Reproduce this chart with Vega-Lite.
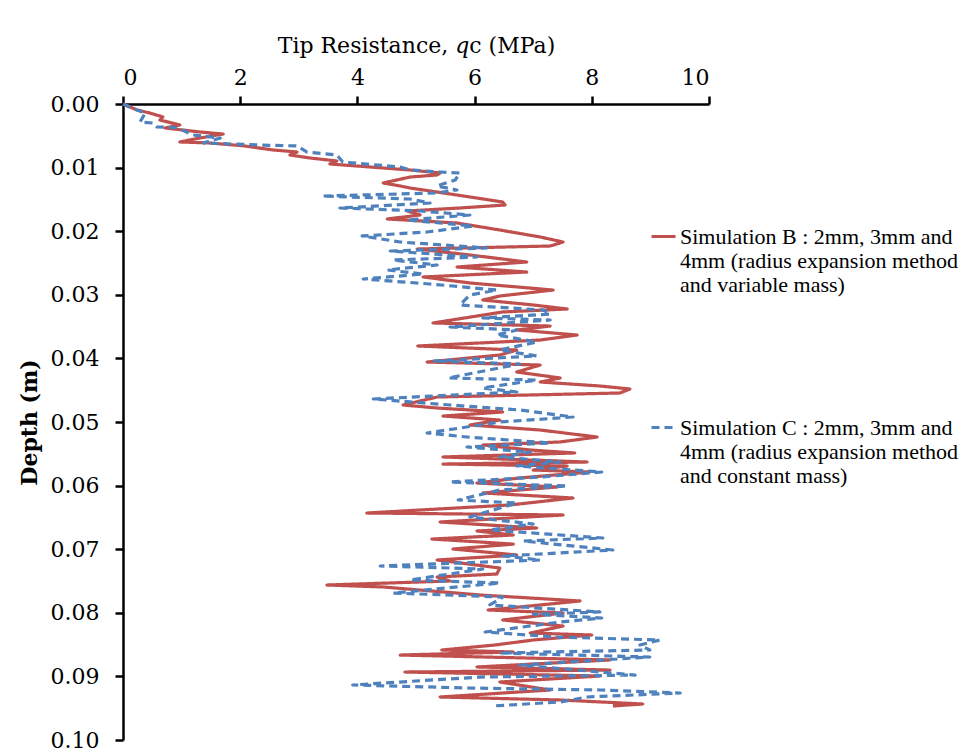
{
  "$schema": "https://vega.github.io/schema/vega-lite/v6.json",
  "width": 586,
  "height": 636,
  "autosize": {"type": "none"},
  "padding": {"left": 123, "top": 104, "right": 259, "bottom": 13},
  "background": "white",
  "config": {"view": {"stroke": null}, "font": "DejaVu Serif"},
  "datasets": {
    "simB": [
      {"depth":0,"qc":0},{"depth":0.00094,"qc":0.24},{"depth":0.00142,"qc":0.46},{"depth":0.00204,"qc":0.68},{"depth":0.00252,"qc":0.63},{"depth":0.0033,"qc":0.97},{"depth":0.00377,"qc":0.72},{"depth":0.0044,"qc":1.31},{"depth":0.00472,"qc":1.71},{"depth":0.00535,"qc":1.31},{"depth":0.00597,"qc":0.97},{"depth":0.00613,"qc":1.48},{"depth":0.0066,"qc":2.08},{"depth":0.00723,"qc":2.56},{"depth":0.00755,"qc":2.97},{"depth":0.00802,"qc":2.85},{"depth":0.00849,"qc":3.19},{"depth":0.00896,"qc":3.65},{"depth":0.00943,"qc":3.53},{"depth":0.00991,"qc":4.22},{"depth":0.01038,"qc":4.9},{"depth":0.01085,"qc":5.41},{"depth":0.01116,"qc":5.36},{"depth":0.01148,"qc":4.9},{"depth":0.01242,"qc":4.44},{"depth":0.01289,"qc":4.73},{"depth":0.01321,"qc":4.9},{"depth":0.01384,"qc":5.36},{"depth":0.01462,"qc":5.92},{"depth":0.01541,"qc":6.48},{"depth":0.01588,"qc":6.52},{"depth":0.01635,"qc":5.75},{"depth":0.01682,"qc":4.85},{"depth":0.01745,"qc":5.07},{"depth":0.01808,"qc":4.51},{"depth":0.01871,"qc":5.7},{"depth":0.01981,"qc":6.43},{"depth":0.02091,"qc":7.12},{"depth":0.0217,"qc":7.51},{"depth":0.02233,"qc":7.29},{"depth":0.0228,"qc":5.02},{"depth":0.02374,"qc":5.92},{"depth":0.02484,"qc":6.89},{"depth":0.02563,"qc":5.7},{"depth":0.02642,"qc":6.89},{"depth":0.0272,"qc":5.12},{"depth":0.02814,"qc":5.92},{"depth":0.02925,"qc":7.34},{"depth":0.03019,"qc":6.43},{"depth":0.03082,"qc":6.14},{"depth":0.0316,"qc":7.0},{"depth":0.03223,"qc":7.58},{"depth":0.0327,"qc":6.48},{"depth":0.03443,"qc":5.29},{"depth":0.03491,"qc":7.29},{"depth":0.03553,"qc":6.72},{"depth":0.03632,"qc":7.75},{"depth":0.03711,"qc":7.12},{"depth":0.03805,"qc":5.03},{"depth":0.03868,"qc":6.72},{"depth":0.03947,"qc":6.43},{"depth":0.04057,"qc":5.19},{"depth":0.04104,"qc":7.12},{"depth":0.04214,"qc":6.72},{"depth":0.04308,"qc":7.46},{"depth":0.04371,"qc":7.12},{"depth":0.04434,"qc":8.14},{"depth":0.04481,"qc":8.65},{"depth":0.04544,"qc":8.48},{"depth":0.04607,"qc":5.36},{"depth":0.04733,"qc":4.78},{"depth":0.0478,"qc":5.36},{"depth":0.04843,"qc":6.48},{"depth":0.04906,"qc":5.46},{"depth":0.04969,"qc":6.43},{"depth":0.05047,"qc":5.92},{"depth":0.05126,"qc":7.12},{"depth":0.05236,"qc":8.09},{"depth":0.05314,"qc":7.46},{"depth":0.05362,"qc":6.14},{"depth":0.0544,"qc":6.95},{"depth":0.05487,"qc":7.71},{"depth":0.0555,"qc":5.46},{"depth":0.05629,"qc":7.92},{"depth":0.05661,"qc":5.46},{"depth":0.05692,"qc":7.58},{"depth":0.05755,"qc":7.0},{"depth":0.05786,"qc":7.97},{"depth":0.0588,"qc":6.77},{"depth":0.05959,"qc":6.04},{"depth":0.06022,"qc":7.41},{"depth":0.06116,"qc":6.14},{"depth":0.06195,"qc":7.68},{"depth":0.06305,"qc":6.6},{"depth":0.06431,"qc":4.16},{"depth":0.06462,"qc":7.51},{"depth":0.06572,"qc":5.41},{"depth":0.06667,"qc":7.06},{"depth":0.06714,"qc":6.04},{"depth":0.06777,"qc":6.66},{"depth":0.0684,"qc":5.27},{"depth":0.0692,"qc":6.66},{"depth":0.06997,"qc":5.63},{"depth":0.07091,"qc":6.72},{"depth":0.0717,"qc":5.36},{"depth":0.07296,"qc":6.43},{"depth":0.0739,"qc":6.38},{"depth":0.07437,"qc":5.36},{"depth":0.075,"qc":5.58},{"depth":0.07563,"qc":3.48},{"depth":0.07594,"qc":4.44},{"depth":0.0772,"qc":6.09},{"depth":0.07814,"qc":7.8},{"depth":0.07877,"qc":7.12},{"depth":0.07956,"qc":6.23},{"depth":0.08003,"qc":7.51},{"depth":0.08113,"qc":6.48},{"depth":0.08208,"qc":7.51},{"depth":0.08318,"qc":6.95},{"depth":0.08349,"qc":8.0},{"depth":0.08428,"qc":7.0},{"depth":0.08506,"qc":6.35},{"depth":0.08585,"qc":5.44},{"depth":0.08616,"qc":6.66},{"depth":0.08664,"qc":4.73},{"depth":0.08742,"qc":8.31},{"depth":0.08852,"qc":6.04},{"depth":0.089,"qc":8.31},{"depth":0.08931,"qc":4.81},{"depth":0.08994,"qc":8.14},{"depth":0.09088,"qc":6.43},{"depth":0.09214,"qc":7.29},{"depth":0.09324,"qc":5.41},{"depth":0.09371,"qc":7.46},{"depth":0.09434,"qc":8.87},{"depth":0.09465,"qc":8.36}
    ],
    "simC": [
      {"depth":0,"qc":0},{"depth":0.00063,"qc":0.15},{"depth":0.00142,"qc":0.38},{"depth":0.00283,"qc":0.29},{"depth":0.00299,"qc":0.51},{"depth":0.00362,"qc":0.58},{"depth":0.0037,"qc":0.92},{"depth":0.00487,"qc":1.19},{"depth":0.00535,"qc":1.66},{"depth":0.00613,"qc":1.37},{"depth":0.00645,"qc":2.34},{"depth":0.0066,"qc":2.97},{"depth":0.00755,"qc":3.14},{"depth":0.00802,"qc":3.65},{"depth":0.00912,"qc":3.75},{"depth":0.00991,"qc":4.73},{"depth":0.01038,"qc":4.9},{"depth":0.01069,"qc":5.41},{"depth":0.01085,"qc":5.75},{"depth":0.01195,"qc":5.67},{"depth":0.01289,"qc":5.36},{"depth":0.01352,"qc":5.7},{"depth":0.01399,"qc":5.36},{"depth":0.01447,"qc":3.4},{"depth":0.01494,"qc":4.9},{"depth":0.01557,"qc":5.24},{"depth":0.01635,"qc":3.7},{"depth":0.01682,"qc":5.07},{"depth":0.01745,"qc":5.92},{"depth":0.01824,"qc":4.85},{"depth":0.01918,"qc":5.97},{"depth":0.02013,"qc":5.19},{"depth":0.02075,"qc":4.08},{"depth":0.0217,"qc":4.73},{"depth":0.02264,"qc":6.21},{"depth":0.02311,"qc":4.56},{"depth":0.02406,"qc":6.04},{"depth":0.02453,"qc":4.61},{"depth":0.02531,"qc":5.36},{"depth":0.0261,"qc":4.51},{"depth":0.02673,"qc":5.12},{"depth":0.02752,"qc":4.1},{"depth":0.0283,"qc":5.24},{"depth":0.02925,"qc":6.38},{"depth":0.03003,"qc":5.92},{"depth":0.0316,"qc":5.75},{"depth":0.03239,"qc":7.17},{"depth":0.03302,"qc":7.29},{"depth":0.03365,"qc":6.14},{"depth":0.03396,"qc":7.29},{"depth":0.03506,"qc":5.58},{"depth":0.03553,"qc":6.72},{"depth":0.03632,"qc":6.38},{"depth":0.03742,"qc":7.06},{"depth":0.03868,"qc":6.43},{"depth":0.03962,"qc":7.06},{"depth":0.04041,"qc":5.29},{"depth":0.04088,"qc":6.77},{"depth":0.04308,"qc":5.55},{"depth":0.0434,"qc":7.06},{"depth":0.04465,"qc":6.14},{"depth":0.04528,"qc":6.72},{"depth":0.04638,"qc":4.27},{"depth":0.04733,"qc":5.58},{"depth":0.04811,"qc":6.77},{"depth":0.04921,"qc":7.68},{"depth":0.05,"qc":6.43},{"depth":0.05173,"qc":5.19},{"depth":0.05236,"qc":5.87},{"depth":0.0533,"qc":7.29},{"depth":0.05393,"qc":5.87},{"depth":0.05472,"qc":6.95},{"depth":0.0555,"qc":6.43},{"depth":0.05629,"qc":7.46},{"depth":0.05692,"qc":6.72},{"depth":0.05786,"qc":8.17},{"depth":0.05865,"qc":7.12},{"depth":0.05943,"qc":5.58},{"depth":0.06006,"qc":7.58},{"depth":0.06069,"qc":6.43},{"depth":0.06226,"qc":5.72},{"depth":0.06274,"qc":6.72},{"depth":0.06494,"qc":5.92},{"depth":0.06604,"qc":7.0},{"depth":0.06698,"qc":6.26},{"depth":0.06824,"qc":8.19},{"depth":0.06871,"qc":6.83},{"depth":0.07013,"qc":8.36},{"depth":0.07107,"qc":6.48},{"depth":0.0717,"qc":7.12},{"depth":0.07264,"qc":4.39},{"depth":0.07311,"qc":6.14},{"depth":0.07484,"qc":4.9},{"depth":0.07531,"qc":6.43},{"depth":0.07689,"qc":4.61},{"depth":0.07752,"qc":6.48},{"depth":0.07877,"qc":6.26},{"depth":0.07987,"qc":8.14},{"depth":0.08019,"qc":7.0},{"depth":0.08082,"qc":8.17},{"depth":0.08145,"qc":7.46},{"depth":0.08302,"qc":6.18},{"depth":0.08381,"qc":7.41},{"depth":0.08428,"qc":9.16},{"depth":0.08506,"qc":8.82},{"depth":0.08585,"qc":8.99},{"depth":0.08632,"qc":6.43},{"depth":0.08695,"qc":8.99},{"depth":0.08821,"qc":6.77},{"depth":0.08979,"qc":8.74},{"depth":0.0901,"qc":6.09},{"depth":0.09135,"qc":3.92},{"depth":0.09182,"qc":5.87},{"depth":0.09214,"qc":8.14},{"depth":0.09261,"qc":9.51},{"depth":0.09324,"qc":7.92},{"depth":0.09403,"qc":7.46},{"depth":0.09465,"qc":6.3}
    ]
  },
  "encoding": {
    "x": {
      "field": "qc", "type": "quantitative",
      "scale": {"domain": [0, 10], "nice": false, "zero": false},
      "axis": {
        "orient": "top", "values": [0, 2, 4, 6, 8, 10], "grid": false,
        "title": "Tip Resistance, 𝑞c (MPa)",
        "domainColor": "black", "domainWidth": 2.5,
        "tickColor": "black", "tickWidth": 2.5, "tickSize": 8,
        "labelFontSize": 22, "labelColor": "black", "labelPadding": 7, "labelFont": "DejaVu Serif",
        "titleFontSize": 22, "titleFontWeight": "normal", "titleColor": "black", "titlePadding": 9, "titleFont": "DejaVu Serif"
      }
    },
    "y": {
      "field": "depth", "type": "quantitative",
      "scale": {"domain": [0, 0.1], "reverse": true, "nice": false, "zero": false},
      "axis": {
        "values": [0, 0.01, 0.02, 0.03, 0.04, 0.05, 0.06, 0.07, 0.08, 0.09, 0.1],
        "format": ".2f", "grid": false,
        "title": "Depth (m)",
        "domainColor": "black", "domainWidth": 2.5,
        "tickColor": "black", "tickWidth": 2.5, "tickSize": 8,
        "labelFontSize": 22, "labelColor": "black", "labelPadding": 16, "labelFont": "DejaVu Serif",
        "titleFontSize": 22, "titleFontWeight": "bold", "titleColor": "black", "titlePadding": 9, "titleFont": "DejaVu Serif"
      }
    },
    "order": {"field": "depth", "type": "quantitative"}
  },
  "layer": [
    {
      "data": {"name": "simB"},
      "mark": {"type": "line", "strokeWidth": 3.2, "strokeJoin": "round", "clip": false},
      "encoding": {
        "color": {
          "datum": "Simulation B : 2mm, 3mm and\n4mm (radius expansion method\nand variable mass)",
          "type": "nominal",
          "scale": {"range": ["#C0504D", "#4F81BD"]},
          "legend": {
            "orient": "none", "legendX": 527, "legendY": 119, "title": null,
            "symbolType": "stroke", "symbolSize": 576, "symbolStrokeWidth": 3,
            "labelFont": "Liberation Serif", "labelFontSize": 22, "labelColor": "black",
            "labelLimit": 400, "rowPadding": 118, "labelOffset": 3,
            "labelExpr": "split(datum.label, '\\n')"
          }
        },
        "strokeDash": {
          "datum": "Simulation B : 2mm, 3mm and\n4mm (radius expansion method\nand variable mass)",
          "type": "nominal",
          "scale": {"range": [[1, 0], [8, 5]]}
        }
      }
    },
    {
      "data": {"name": "simC"},
      "mark": {"type": "line", "strokeWidth": 3.2, "strokeJoin": "round", "clip": false},
      "encoding": {
        "color": {
          "datum": "Simulation C : 2mm, 3mm and\n4mm (radius expansion method\nand constant mass)",
          "type": "nominal"
        },
        "strokeDash": {
          "datum": "Simulation C : 2mm, 3mm and\n4mm (radius expansion method\nand constant mass)",
          "type": "nominal"
        }
      }
    }
  ]
}
